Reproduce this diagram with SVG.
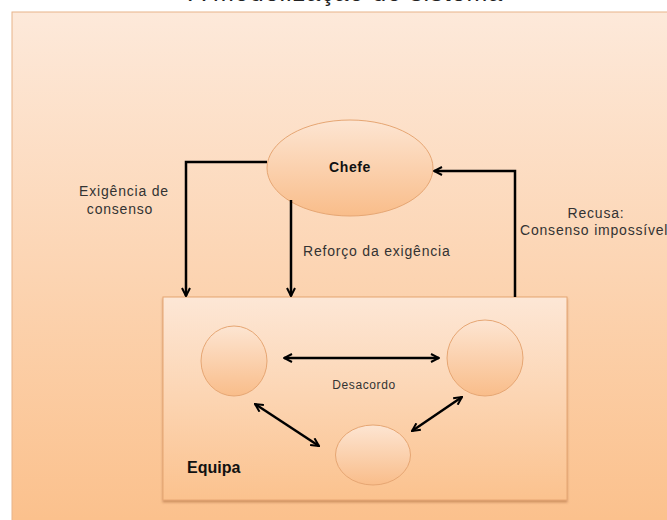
<svg xmlns="http://www.w3.org/2000/svg" width="667" height="520" viewBox="0 0 667 520">
<defs>
<linearGradient id="bg" x1="0" y1="0" x2="0" y2="1">
<stop offset="0" stop-color="#fde9da"/>
<stop offset="1" stop-color="#fbc08b"/>
</linearGradient>
<linearGradient id="team" x1="0" y1="0" x2="0" y2="1">
<stop offset="0" stop-color="#fde7d6"/>
<stop offset="1" stop-color="#fbc28e"/>
</linearGradient>
<linearGradient id="node" x1="0" y1="0" x2="0" y2="1">
<stop offset="0" stop-color="#fde5d2"/>
<stop offset="1" stop-color="#f9bd8a"/>
</linearGradient>
<marker id="ah" viewBox="0 0 10 10" refX="9" refY="5" markerWidth="4" markerHeight="4" orient="auto-start-reverse" markerUnits="strokeWidth">
<path d="M1,1 L9,5 L1,9" fill="none" stroke="#000" stroke-width="2"/>
</marker>
<filter id="sh" x="-5%" y="-5%" width="110%" height="115%">
<feDropShadow dx="0" dy="2" stdDeviation="1.2" flood-color="#a06030" flood-opacity="0.5"/>
</filter>
</defs>
<style>
.lbl{font-family:"Liberation Sans",Arial,sans-serif;font-size:14px;letter-spacing:0.8px;fill:#333}
.bold{font-family:"Liberation Sans",Arial,sans-serif;font-weight:bold;fill:#111}
.nd{fill:url(#node);stroke:#e6a673;stroke-width:1}
.cn{fill:none;stroke:#000;stroke-width:2.5;marker-end:url(#ah)}
.bi{marker-start:url(#ah)}
</style>
<rect x="0" y="0" width="667" height="520" fill="#fff"/>
<text x="346" y="1" text-anchor="middle" font-family="Liberation Sans,Arial,sans-serif" font-size="25" letter-spacing="1" fill="#222">A modelização do sistema</text>
<rect id="background" x="12" y="12" width="670" height="520" fill="url(#bg)" stroke="#e8b48a" stroke-width="1"/>
<g id="equipa">
<rect x="163" y="297" width="404" height="203" fill="url(#team)" stroke="#e6a673" stroke-width="1" filter="url(#sh)"/>
<text class="bold" x="187" y="473" font-size="16">Equipa</text>
</g>
<g id="chefe">
<ellipse class="nd" cx="350" cy="168" rx="83" ry="48"/>
<text class="bold" x="350" y="172" text-anchor="middle" font-size="14" letter-spacing="0.6">Chefe</text>
</g>
<g id="membro1"><ellipse class="nd" cx="234" cy="361" rx="33" ry="35"/></g>
<g id="membro2"><ellipse class="nd" cx="485" cy="358" rx="38" ry="38"/></g>
<g id="membro3"><ellipse class="nd" cx="373" cy="455" rx="37.5" ry="30"/></g>
<g id="connectors">
<path class="cn" d="M267,162 H186 V296"/>
<path class="cn" d="M291,200 V296"/>
<path class="cn" d="M515,297 V171 H434"/>
<path class="cn bi" d="M284,358 H439"/>
<path class="cn bi" d="M255,404 L319,446"/>
<path class="cn bi" d="M412,431 L462,397"/>
</g>
<g id="labels">
<text class="lbl" x="124" y="196" text-anchor="middle">Exigência de</text>
<text class="lbl" x="120" y="214" text-anchor="middle">consenso</text>
<text class="lbl" x="303" y="256">Reforço da exigência</text>
<text class="lbl" x="596" y="218" text-anchor="middle">Recusa:</text>
<text class="lbl" x="520" y="235">Consenso impossível</text>
<text x="364" y="389" text-anchor="middle" font-family="Liberation Sans,Arial,sans-serif" font-size="12" letter-spacing="0.6" fill="#333">Desacordo</text>
</g>
</svg>
